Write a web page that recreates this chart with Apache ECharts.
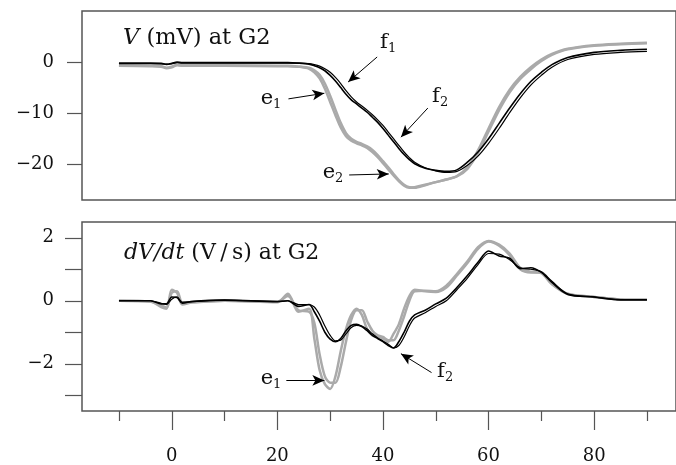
<!DOCTYPE html>
<html>
<head>
<meta charset="utf-8">
<script src="https://cdn.jsdelivr.net/npm/echarts@6/dist/echarts.min.js"></script>
<style>
  html, body { margin: 0; padding: 0; background: #fff; }
  #chart { width: 676px; height: 465px; }
</style>
</head>
<body>
<div id="chart"></div>
<script>
// time (ms) shared by every trace
const time = [-10, -4, -2, -1, 0, 1, 2, 4, 10, 20, 22, 24, 26, 27, 28, 29, 30, 31, 32, 33, 34, 35, 36, 37, 38, 39, 40, 41, 42, 43, 44, 45, 46, 48, 50, 52, 54, 56, 58, 60, 62, 64, 66, 68, 70, 72, 75, 80, 85, 90]

// V (mV) at G2
const vF1 = [-0.3, -0.3, -0.35, -0.5, -0.35, -0.1, -0.2, -0.2, -0.2, -0.2, -0.2, -0.2, -0.3, -0.5, -0.8, -1.3, -2.0, -3.0, -4.2, -5.6, -6.8, -7.8, -8.6, -9.4, -10.3, -11.3, -12.4, -13.7, -15.0, -16.3, -17.6, -18.7, -19.6, -20.7, -21.3, -21.6, -21.4, -20.2, -18.4, -15.9, -13.0, -9.9, -7.0, -4.5, -2.6, -1.0, 0.5, 1.5, 1.9, 2.1]
const vF2 = [-0.2, -0.2, -0.25, -0.4, -0.25, 0.0, -0.1, -0.1, -0.1, -0.1, -0.1, -0.2, -0.4, -0.7, -1.1, -1.7, -2.6, -3.7, -5.0, -6.3, -7.4, -8.2, -9.0, -9.8, -10.8, -11.8, -13.0, -14.3, -15.6, -16.9, -18.1, -19.1, -19.9, -20.8, -21.2, -21.4, -21.1, -19.6, -17.6, -15.0, -12.0, -9.0, -6.2, -3.8, -2.0, -0.5, 0.9, 1.9, 2.3, 2.5]
const vE1 = [-0.6, -0.7, -0.8, -1.1, -0.9, -0.5, -0.6, -0.6, -0.6, -0.7, -0.7, -0.9, -1.3, -2.0, -3.2, -5.2, -7.8, -10.4, -12.8, -14.5, -15.4, -15.9, -16.3, -16.8, -17.6, -18.6, -19.8, -21.0, -22.2, -23.3, -24.2, -24.6, -24.5, -24.0, -23.5, -23.0, -22.3, -20.6, -17.3, -13.0, -8.8, -5.4, -2.9, -1.0, 0.5, 1.6, 2.6, 3.3, 3.6, 3.8]
const vE2 = [-0.7, -0.8, -0.9, -1.2, -1.0, -0.6, -0.7, -0.7, -0.7, -0.8, -0.8, -0.9, -1.1, -1.6, -2.5, -4.2, -6.6, -9.3, -11.9, -13.9, -15.0, -15.6, -16.0, -16.5, -17.2, -18.2, -19.4, -20.6, -21.9, -23.1, -24.0, -24.5, -24.6, -24.1, -23.5, -23.0, -22.4, -20.9, -17.8, -13.6, -9.4, -5.9, -3.3, -1.4, 0.2, 1.4, 2.5, 3.2, 3.5, 3.7]

// dV/dt (V/s) at G2
const dF1 = [0, 0, -0.08, -0.12, 0.05, 0.12, -0.05, -0.03, 0.02, -0.02, 0.0, -0.12, -0.12, -0.2, -0.45, -0.8, -1.1, -1.27, -1.25, -1.05, -0.85, -0.78, -0.8, -0.9, -1.05, -1.18, -1.28, -1.38, -1.5, -1.42, -1.15, -0.8, -0.55, -0.38, -0.18, 0.0, 0.35, 0.72, 1.15, 1.5, 1.48, 1.3, 1.05, 1.0, 0.92, 0.62, 0.22, 0.12, 0.03, 0.03]
const dF2 = [0, 0, -0.1, -0.1, 0.12, 0.1, -0.08, -0.02, 0.02, -0.03, 0.0, -0.18, -0.12, -0.35, -0.65, -1.0, -1.22, -1.3, -1.2, -0.95, -0.78, -0.75, -0.82, -0.95, -1.1, -1.2, -1.3, -1.42, -1.5, -1.3, -1.0, -0.65, -0.45, -0.3, -0.1, 0.08, 0.42, 0.8, 1.22, 1.58, 1.42, 1.35, 1.02, 1.05, 0.9, 0.58, 0.2, 0.12, 0.03, 0.03]
const dE1 = [0, -0.02, -0.2, -0.25, 0.35, 0.25, -0.12, -0.05, 0, -0.05, 0.22, -0.35, -0.25, -1.2, -2.2, -2.65, -2.8, -2.4, -1.6, -0.9, -0.45, -0.25, -0.45, -0.9, -1.1, -1.15, -1.2, -1.3, -1.05, -0.75, -0.25, 0.15, 0.35, 0.3, 0.28, 0.42, 0.8, 1.2, 1.65, 1.88, 1.75, 1.45, 1.0, 0.9, 0.9, 0.55, 0.22, 0.12, 0.04, 0.03]
const dE2 = [0, -0.03, -0.15, -0.22, 0.25, 0.3, -0.05, -0.05, 0, -0.03, 0.15, -0.3, -0.35, -0.7, -1.7, -2.4, -2.6, -2.6, -2.1, -1.3, -0.6, -0.3, -0.3, -0.65, -0.95, -1.1, -1.15, -1.25, -1.25, -0.95, -0.5, 0.0, 0.3, 0.32, 0.3, 0.48, 0.85, 1.25, 1.7, 1.9, 1.78, 1.5, 1.05, 0.92, 0.88, 0.52, 0.22, 0.12, 0.04, 0.03]

// ticks
const xMajor = [0, 20, 40, 60, 80]
const xMinor = [-10, 10, 30, 50, 70, 90]
const vTicks = [-20, -10, 0]
const dTicks = [-3, -2, -1, 0, 1, 2]
const dLabels = [-2, 0, 2]

const FONT = 'DejaVu Serif'
const AXIS = '#555'
const GRAY = '#aaaaaa'

const chart = echarts.init(document.getElementById('chart'), null, { renderer: 'canvas' })

const pairs = (vals) => time.map((t, i) => [t, vals[i]])
const minus = (v) => String(v).replace('-', '\u2212')

const arrow = (pts) => ({
  silent: true,
  symbol: ['none', 'arrow'],
  symbolSize: [8, 12],
  label: { show: false },
  lineStyle: { color: '#000', width: 1, type: 'solid' },
  emphasis: { disabled: true },
  data: pts.map((p) => [{ coord: p[0] }, { coord: p[1] }]),
})

const line = (name, vals, xi, yi, color, width, extra) =>
  Object.assign(
    {
      name,
      type: 'line',
      xAxisIndex: xi,
      yAxisIndex: yi,
      data: pairs(vals),
      showSymbol: false,
      smooth: 0.3,
      lineStyle: { color, width },
      silent: true,
      z: color === GRAY ? 2 : 3,
    },
    extra || {}
  )

const xBase = {
  type: 'value', min: -17, max: 95.5, position: 'bottom',
  splitLine: { show: false }, axisLine: { show: false, onZero: false },
}
const yBase = { type: 'value', position: 'left', splitLine: { show: false }, axisLine: { show: false, onZero: false } }

const option = {
  animation: false,
  textStyle: { fontFamily: FONT },
  grid: [
    { left: 82, right: -3, top: 11, height: 189, show: true, borderColor: AXIS, borderWidth: 1.5 },
    { left: 82, right: -3, top: 222, height: 189, show: true, borderColor: AXIS, borderWidth: 1.5 },
  ],
  xAxis: [
    Object.assign({}, xBase, { gridIndex: 0, axisTick: { show: false }, axisLabel: { show: false } }),
    Object.assign({}, xBase, {
      gridIndex: 1,
      axisTick: { customValues: xMajor, length: 19, lineStyle: { color: AXIS, width: 1.2 } },
      axisLabel: { customValues: xMajor, margin: 36, fontSize: 18, color: '#111', fontFamily: FONT },
    }),
    Object.assign({}, xBase, {
      gridIndex: 1,
      axisTick: { customValues: xMinor, length: 10, lineStyle: { color: AXIS, width: 1.2 } },
      axisLabel: { show: false, customValues: xMinor },
    }),
  ],
  yAxis: [
    Object.assign({}, yBase, {
      gridIndex: 0, min: -27, max: 10,
      axisTick: { customValues: vTicks, length: 15, lineStyle: { color: AXIS, width: 1.2 } },
      axisLabel: { customValues: vTicks, margin: 28, fontSize: 18, color: '#111', fontFamily: FONT, formatter: minus },
    }),
    Object.assign({}, yBase, {
      gridIndex: 1, min: -3.5, max: 2.5,
      axisTick: { customValues: dTicks, length: 17, lineStyle: { color: AXIS, width: 1.2 } },
      axisLabel: { customValues: dLabels, margin: 28, fontSize: 18, color: '#111', fontFamily: FONT, formatter: minus },
    }),
  ],
  series: [
    line('e1', vE1, 0, 0, GRAY, 2.5),
    line('e2', vE2, 0, 0, GRAY, 2.5),
    line('f1', vF1, 0, 0, '#000', 1.2),
    line('f2', vF2, 0, 0, '#000', 1.6, {
      markLine: arrow([
        [[38.9, 1.0], [33.4, -3.9]],
        [[48.5, -9.0], [43.4, -14.7]],
        [[22.1, -7.2], [28.9, -6.1]],
        [[33.6, -22.1], [41.1, -21.9]],
      ]),
    }),
    line('de1', dE1, 1, 1, GRAY, 2.5),
    line('de2', dE2, 1, 1, GRAY, 2.5),
    line('df1', dF1, 1, 1, '#000', 1.2),
    line('df2', dF2, 1, 1, '#000', 1.6, {
      markLine: arrow([
        [[21.7, -2.53], [28.9, -2.53]],
        [[49.2, -2.28], [43.4, -1.68]],
      ]),
    }),
  ],
  graphic: [
    {
      type: 'text', left: 123, top: 27,
      style: {
        text: '{i|V} (mV) at G2', font: '22.5px "DejaVu Serif"', fill: '#111',
        rich: { i: { fontStyle: 'italic', fontSize: 22.5, fontFamily: FONT } },
      },
    },
    {
      type: 'text', left: 124, top: 242,
      style: {
        text: '{i|dV/dt} (V\u2009/\u2009s) at G2', font: '22px "DejaVu Serif"', fill: '#111',
        rich: { i: { fontStyle: 'italic', fontSize: 22, fontFamily: FONT } },
      },
    },
    // subscripted labels: base letter, subscript, centre x, centre y, subscript offset
    ...[
      ['e', '1', 267, 99, 6],
      ['f', '1', 384, 43, 4],
      ['f', '2', 436, 97, 4],
      ['e', '2', 329, 173, 6],
      ['e', '1', 267, 379, 6],
      ['f', '2', 441, 372, 4],
    ].flatMap(([b, s, x, y, dx]) => [
      { type: 'text', x, y, style: { text: b, font: '21px "DejaVu Serif"', fill: '#111', align: 'center', verticalAlign: 'middle' } },
      { type: 'text', x: x + dx, y: y + 6, style: { text: s, font: '13px "DejaVu Serif"', fill: '#111', align: 'left', verticalAlign: 'middle' } },
    ]),
  ],
}

chart.setOption(option)
window.addEventListener('resize', () => chart.resize())
</script>
</body>
</html>
